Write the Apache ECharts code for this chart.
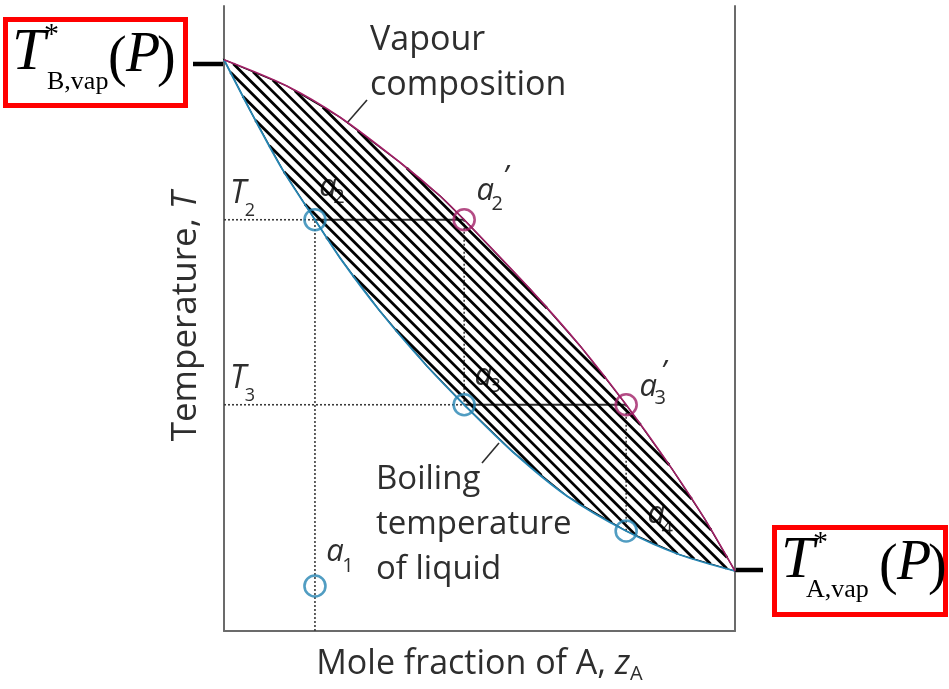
<!DOCTYPE html>
<html>
<head>
<meta charset="utf-8">
<script src="https://cdn.jsdelivr.net/npm/echarts@6/dist/echarts.min.js"></script>
<style>
  html, body { margin: 0; padding: 0; background: #ffffff; }
  #chart { width: 949px; height: 689px; }
</style>
</head>
<body>
<div id="chart"></div>
<script>
// Boiling-point diagram of an ideal binary mixture (A + B) at constant pressure.
// Temperature is on an arbitrary 0-100 scale; composition is the mole fraction of A.

// Liquid (boiling temperature) curve
const liquidX = [0, 0.055, 0.114, 0.178, 0.227, 0.305, 0.397, 0.470, 0.566, 0.671, 0.787, 0.892, 1];
const liquidT = [91.4, 82.7, 73.9, 65.8, 59.7, 51.2, 42.4, 36.2, 28.6, 21.6, 16.0, 12.2, 9.6];

// Vapour composition curve
const vapourX = [0, 0.123, 0.227, 0.344, 0.423, 0.470, 0.599, 0.697, 0.787, 0.877, 0.941, 1];
const vapourT = [91.4, 87.2, 82.2, 75.0, 69.6, 65.8, 54.7, 45.6, 36.2, 25.9, 17.9, 9.6];

// Marked state points a1 ... a4 and primes
const pointSub   = ['1', '2', '2', '3', '3', '4'];
const pointPrime = [false, false, true, false, true, false];
const pointX     = [0.178, 0.178, 0.470, 0.470, 0.787, 0.787];
const pointT     = [7.2, 65.8, 65.8, 36.2, 36.2, 16.0];
const pointPhase = ['liquid', 'liquid', 'vapour', 'liquid', 'vapour', 'liquid'];

// Reference temperatures
const tempNames  = ['2', '3'];
const tempValues = [65.8, 36.2];

// Label placement (pixel offsets from each circle centre): letter, subscript, prime
const labelOffsets = [
  { a: [20, -34], s: [33, -20] },
  { a: [13, -33], s: [24, -22] },
  { a: [21, -29], s: [33, -15], p: [41, -42] },
  { a: [19, -29], s: [31, -18] },
  { a: [22, -18], s: [34, -6],  p: [37, -32] },
  { a: [30, -17], s: [41, -2] }
];

const BLUE = '#2585b3';
const PURPLE = '#a11f66';
const INK = '#2e2e2e';
const FONT = '"Open Sans", "DejaVu Sans", sans-serif';

const chart = echarts.init(document.getElementById('chart'), null, { renderer: 'canvas' });

function pairs(xs, ys) { return xs.map((x, i) => [x, ys[i]]); }

// Dotted construction lines from the reference temperatures and compositions
const dottedLines = [
  [[0, tempValues[0]], [pointX[1], pointT[1]]],
  [[0, tempValues[1]], [pointX[3], pointT[3]]],
  [[pointX[1], 0], [pointX[1], pointT[1]]],
  [[pointX[2], pointT[2]], [pointX[3], pointT[3]]],
  [[pointX[4], pointT[4]], [pointX[5], pointT[5]]]
];
// Tie lines joining coexisting liquid and vapour
const tieLines = [
  [[pointX[1], pointT[1]], [pointX[2], pointT[2]]],
  [[pointX[3], pointT[3]], [pointX[4], pointT[4]]]
];

const series = [];

dottedLines.forEach(seg => series.push({
  type: 'line', data: seg, symbol: 'none', silent: true, z: 2,
  lineStyle: { color: '#3a3a3a', width: 1.6, type: [2, 2] }
}));
tieLines.forEach(seg => series.push({
  type: 'line', data: seg, symbol: 'none', silent: true, z: 2,
  lineStyle: { color: INK, width: 2 }
}));

// Text labels for the state points (sit underneath the hatching)
series.push({
  type: 'custom', z: 3, silent: true, clip: false,
  data: pointX.map((x, i) => [x, pointT[i], i]),
  renderItem(params, api) {
    const i = api.value(2);
    const c = api.coord([api.value(0), api.value(1)]);
    const o = labelOffsets[i];
    const kids = [
      { type: 'text', x: c[0] + o.a[0], y: c[1] + o.a[1],
        style: { text: 'a', font: 'italic 31px ' + FONT, fill: INK, align: 'center', verticalAlign: 'middle' } },
      { type: 'text', x: c[0] + o.s[0], y: c[1] + o.s[1],
        style: { text: pointSub[i], font: '20px ' + FONT, fill: INK, align: 'center', verticalAlign: 'middle' } }
    ];
    if (pointPrime[i]) {
      kids.push({ type: 'text', x: c[0] + o.p[0], y: c[1] + o.p[1],
        style: { text: '\u2019', font: 'italic 30px ' + FONT, fill: INK, align: 'center', verticalAlign: 'middle' } });
    }
    return { type: 'group', children: kids };
  }
});

// T2, T3 labels next to the temperature axis
series.push({
  type: 'custom', z: 3, silent: true, clip: false,
  data: tempValues.map((t, i) => [0, t, i]),
  renderItem(params, api) {
    const i = api.value(2);
    const c = api.coord([api.value(0), api.value(1)]);
    return { type: 'group', children: [
      { type: 'text', x: c[0] + 14, y: c[1] - 26,
        style: { text: 'T', font: 'italic 32px ' + FONT, fill: INK, align: 'center', verticalAlign: 'middle' } },
      { type: 'text', x: c[0] + 26, y: c[1] - 9,
        style: { text: tempNames[i], font: '18px ' + FONT, fill: INK, align: 'center', verticalAlign: 'middle' } }
    ] };
  }
});

// Hatching of the two-phase region between the curves
series.push({
  type: 'custom', z: 4, silent: true, clip: false,
  data: [[0, 0]],
  renderItem(params, api) {
    const lower = liquidX.map((x, i) => api.coord([x, liquidT[i]]));
    const upper = vapourX.map((x, i) => api.coord([x, vapourT[i]]));
    const poly = lower.concat(upper.slice(1, -1).reverse());
    const slope = 1.0, gapX = 11.5;
    const step = gapX * slope;
    const f = p => p[1] - slope * p[0];
    let lo = Infinity, hi = -Infinity;
    poly.forEach(p => { lo = Math.min(lo, f(p)); hi = Math.max(hi, f(p)); });
    const lines = [];
    for (let k = lo + step * 0.5; k < hi; k += step) {
      const hits = [];
      for (let j = 0; j < poly.length; j++) {
        const a = poly[j], b = poly[(j + 1) % poly.length];
        const fa = f(a) - k, fb = f(b) - k;
        if ((fa < 0) !== (fb < 0)) {
          const t = fa / (fa - fb);
          hits.push([a[0] + t * (b[0] - a[0]), a[1] + t * (b[1] - a[1])]);
        }
      }
      hits.sort((p, q) => p[0] - q[0]);
      for (let h = 0; h + 1 < hits.length; h += 2) {
        lines.push({ type: 'line',
          shape: { x1: hits[h][0], y1: hits[h][1], x2: hits[h + 1][0], y2: hits[h + 1][1] },
          style: { stroke: '#000', lineWidth: 2.8 } });
      }
    }
    lines.push({ type: 'polygon', shape: { points: poly },
      style: { fill: 'none', stroke: '#000', lineWidth: 1.2 } });
    return { type: 'group', children: lines };
  }
});

// Phase boundaries
series.push({
  type: 'line', data: pairs(liquidX, liquidT), symbol: 'none', smooth: 0.3, z: 5, silent: true,
  lineStyle: { color: BLUE, width: 1.8 }
});
series.push({
  type: 'line', data: pairs(vapourX, vapourT), symbol: 'none', smooth: 0.3, z: 5, silent: true,
  lineStyle: { color: PURPLE, width: 1.6 }
});

// State point circles
series.push({
  type: 'scatter', z: 6, silent: true,
  data: pointX.map((x, i) => ({
    value: [x, pointT[i]],
    itemStyle: { color: 'rgba(0,0,0,0)', borderColor: pointPhase[i] === 'liquid' ? BLUE : PURPLE, borderWidth: 2.6 }
  })),
  symbol: 'circle', symbolSize: 21
});

const axisLine = { show: true, lineStyle: { color: '#6b6b6b', width: 2 } };

const option = {
  backgroundColor: '#ffffff',
  animation: false,
  grid: { left: 224, right: 214, top: 6, bottom: 57 },
  xAxis: {
    type: 'value', min: 0, max: 1,
    axisLine, axisTick: { show: false }, axisLabel: { show: false }, splitLine: { show: false },
    name: 'Mole fraction of A, {i|z}{s|A}', nameLocation: 'middle', nameGap: 13,
    nameTextStyle: {
      color: INK, fontFamily: FONT, fontSize: 34, verticalAlign: 'top',
      rich: {
        i: { fontStyle: 'italic', fontFamily: FONT, fontSize: 34, color: INK },
        s: { fontFamily: FONT, fontSize: 20, color: INK, padding: [20, 0, 0, 0] }
      }
    }
  },
  yAxis: [{
    type: 'value', min: 0, max: 100,
    axisLine, axisTick: { show: false }, axisLabel: { show: false }, splitLine: { show: false },
    name: 'Temperature, {i|T}', nameLocation: 'middle', nameGap: 20, nameRotate: 90,
    nameTextStyle: {
      color: INK, fontFamily: FONT, fontSize: 35, padding: [0, 0, 0, 4],
      rich: { i: { fontStyle: 'italic', fontFamily: FONT, fontSize: 35, color: INK } }
    }
  }, {
    type: 'value', min: 0, max: 100, position: 'right',
    axisLine, axisTick: { show: false }, axisLabel: { show: false }, splitLine: { show: false }
  }],
  graphic: [
    // Curve annotations
    { type: 'text', left: 370, top: 18, silent: true,
      style: { text: 'Vapour\ncomposition', font: '34px ' + FONT, fill: INK, lineHeight: 45 } },
    { type: 'line', silent: true, shape: { x1: 367, y1: 100, x2: 347, y2: 123 },
      style: { stroke: INK, lineWidth: 1.6 } },
    { type: 'text', left: 376, top: 457, silent: true,
      style: { text: 'Boiling\ntemperature\nof liquid', font: '33px ' + FONT, fill: INK, lineHeight: 45 } },
    { type: 'line', silent: true, shape: { x1: 482, y1: 463, x2: 499, y2: 443 },
      style: { stroke: INK, lineWidth: 1.6 } },

    // Pure-component boiling points
    { type: 'line', silent: true, shape: { x1: 193, y1: 64, x2: 223, y2: 64 },
      style: { stroke: '#000', lineWidth: 4.5 } },
    { type: 'rect', silent: true, shape: { x: 5.5, y: 19.5, width: 180, height: 86 },
      style: { fill: '#fff', stroke: '#ff0000', lineWidth: 5 } },
    { type: 'text', silent: true, x: 12, y: 83,
      style: { text: 'T', font: 'italic 60px "Liberation Serif", serif', fill: '#000', verticalAlign: 'bottom' } },
    { type: 'text', silent: true, x: 44, y: 50,
      style: { text: '*', font: '30px "Liberation Serif", serif', fill: '#000', verticalAlign: 'bottom' } },
    { type: 'text', silent: true, x: 47, y: 95,
      style: { text: 'B,vap', font: '26px "Liberation Serif", serif', fill: '#000', verticalAlign: 'bottom' } },
    { type: 'text', silent: true, x: 108, y: 88,
      style: { text: '(', font: '56px "Liberation Serif", serif', fill: '#000', verticalAlign: 'bottom' } },
    { type: 'text', silent: true, x: 126, y: 84,
      style: { text: 'P', font: 'italic 56px "Liberation Serif", serif', fill: '#000', verticalAlign: 'bottom' } },
    { type: 'text', silent: true, x: 157, y: 88,
      style: { text: ')', font: '56px "Liberation Serif", serif', fill: '#000', verticalAlign: 'bottom' } },

    { type: 'line', silent: true, shape: { x1: 734, y1: 570, x2: 763, y2: 570 },
      style: { stroke: '#000', lineWidth: 4.5 } },
    { type: 'rect', silent: true, shape: { x: 774.5, y: 527.5, width: 171, height: 87 },
      style: { fill: '#fff', stroke: '#ff0000', lineWidth: 5 } },
    { type: 'text', silent: true, x: 781, y: 591,
      style: { text: 'T', font: 'italic 60px "Liberation Serif", serif', fill: '#000', verticalAlign: 'bottom' } },
    { type: 'text', silent: true, x: 813, y: 558,
      style: { text: '*', font: '30px "Liberation Serif", serif', fill: '#000', verticalAlign: 'bottom' } },
    { type: 'text', silent: true, x: 806, y: 603,
      style: { text: 'A,vap', font: '26px "Liberation Serif", serif', fill: '#000', verticalAlign: 'bottom' } },
    { type: 'text', silent: true, x: 879, y: 596,
      style: { text: '(', font: '56px "Liberation Serif", serif', fill: '#000', verticalAlign: 'bottom' } },
    { type: 'text', silent: true, x: 897, y: 592,
      style: { text: 'P', font: 'italic 56px "Liberation Serif", serif', fill: '#000', verticalAlign: 'bottom' } },
    { type: 'text', silent: true, x: 928, y: 596,
      style: { text: ')', font: '56px "Liberation Serif", serif', fill: '#000', verticalAlign: 'bottom' } }
  ],
  series
};

chart.setOption(option);
</script>
</body>
</html>
